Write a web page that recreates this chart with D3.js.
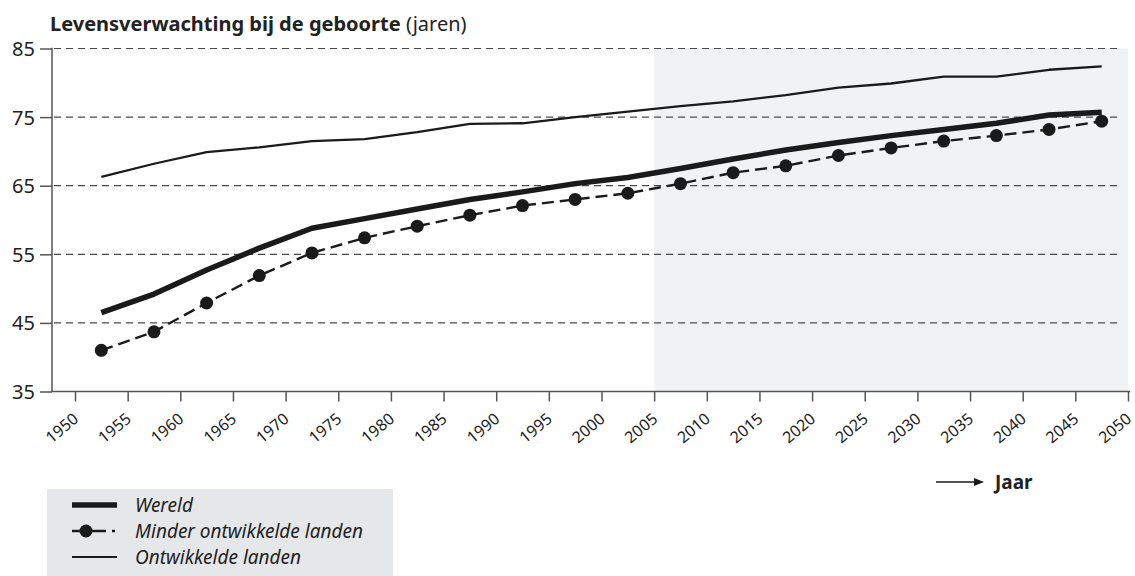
<!DOCTYPE html>
<html>
<head>
<meta charset="utf-8">
<script src="https://cdn.jsdelivr.net/npm/d3@7"></script>
<style>
  html, body { margin: 0; padding: 0; background: #fff; }
  svg { display: block; font-family: "Noto Sans", "Open Sans", sans-serif; }
</style>
</head>
<body>
<svg id="chart" width="1135" height="576"></svg>
<script>
// ---- data ----
const periods = [1952.5, 1957.5, 1962.5, 1967.5, 1972.5, 1977.5, 1982.5, 1987.5, 1992.5, 1997.5,
                 2002.5, 2007.5, 2012.5, 2017.5, 2022.5, 2027.5, 2032.5, 2037.5, 2042.5, 2047.5];
const wereld = [46.5, 49.2, 52.7, 55.9, 58.8, 60.2, 61.6, 63.0, 64.1, 65.3,
                66.2, 67.5, 68.9, 70.2, 71.3, 72.3, 73.2, 74.1, 75.3, 75.7];
const minderOntwikkeld = [41.0, 43.7, 47.9, 51.9, 55.2, 57.4, 59.1, 60.7, 62.1, 63.0,
                          63.9, 65.3, 66.9, 67.9, 69.4, 70.5, 71.5, 72.3, 73.2, 74.4];
const ontwikkeld = [66.3, 68.2, 69.9, 70.6, 71.5, 71.8, 72.8, 74.0, 74.1, 75.0,
                    75.8, 76.6, 77.3, 78.2, 79.3, 79.9, 80.9, 80.9, 81.9, 82.4];
const xTicks = d3.range(1950, 2051, 5);
const yTicks = [35, 45, 55, 65, 75, 85];
const projectionStart = 2005;
const titleBold = "Levensverwachting bij de geboorte";
const titleNormal = " (jaren)";
const legendLabels = ["Wereld", "Minder ontwikkelde landen", "Ontwikkelde landen"];
const xAxisLabel = "Jaar";

// ---- layout ----
const svg = d3.select("#chart");
const axisLeftX = 52, axisRightX = 1130;
const x = d3.scaleLinear().domain([1950, 2050]).range([75, 1128]);
const y = d3.scaleLinear().domain([35, 85]).range([391.5, 48.5]);

// shaded projection area
svg.append("rect")
  .attr("x", x(projectionStart)).attr("y", y(85))
  .attr("width", x(2050) - x(projectionStart)).attr("height", y(35) - y(85))
  .attr("fill", "#f1f2f4");

// gridlines
svg.append("g").selectAll("line")
  .data(yTicks.filter(v => v > 35))
  .join("line")
  .attr("x1", axisLeftX + 2).attr("x2", 1122)
  .attr("y1", d => y(d)).attr("y2", d => y(d))
  .attr("stroke", "#4a4a4a").attr("stroke-width", 1.2)
  .attr("stroke-dasharray", "7,5");

// y axis
const gy = svg.append("g").attr("transform", `translate(${axisLeftX},0)`)
  .call(d3.axisLeft(y).tickValues(yTicks).tickSize(12).tickPadding(5).tickFormat(d3.format("d")));
gy.select(".domain").remove();
gy.selectAll(".tick line").attr("stroke", "#555").attr("stroke-width", 1.5);
gy.selectAll(".tick text").attr("font-size", 20).attr("fill", "#222")
  .attr("font-family", "Noto Sans").attr("dy", "0.35em");
svg.append("line").attr("x1", axisLeftX).attr("x2", axisLeftX)
  .attr("y1", y(85) - 0.75).attr("y2", y(35))
  .attr("stroke", "#555").attr("stroke-width", 1.5);

// x axis
const gx = svg.append("g").attr("transform", `translate(0,${y(35)})`)
  .call(d3.axisBottom(x).tickValues(xTicks).tickSize(10).tickFormat(d3.format("d")));
gx.select(".domain").remove();
gx.selectAll(".tick line").attr("stroke", "#555").attr("stroke-width", 1.5);
gx.selectAll(".tick text")
  .attr("font-size", 16).attr("fill", "#222").attr("font-family", "Noto Sans")
  .attr("text-anchor", "end")
  .attr("y", 0).attr("dy", 0)
  .attr("transform", "translate(4,29) rotate(-40)");
svg.append("line").attr("x1", axisLeftX - 0.75).attr("x2", axisRightX)
  .attr("y1", y(35)).attr("y2", y(35))
  .attr("stroke", "#555").attr("stroke-width", 1.5);

// lines
const line = d3.line().x((d, i) => x(periods[i])).y(d => y(d));
svg.append("path").datum(ontwikkeld).attr("d", line)
  .attr("fill", "none").attr("stroke", "#1a1a1a").attr("stroke-width", 2.3).attr("stroke-linejoin", "round");
svg.append("path").datum(wereld).attr("d", line)
  .attr("fill", "none").attr("stroke", "#1a1a1a").attr("stroke-width", 5.5).attr("stroke-linejoin", "round");
svg.append("path").datum(minderOntwikkeld).attr("d", line)
  .attr("fill", "none").attr("stroke", "#1a1a1a").attr("stroke-width", 2.4)
  .attr("stroke-dasharray", "12,6");
svg.append("g").selectAll("circle").data(minderOntwikkeld).join("circle")
  .attr("cx", (d, i) => x(periods[i])).attr("cy", d => y(d)).attr("r", 6.5)
  .attr("fill", "#1a1a1a");

// title
const title = svg.append("text").attr("x", 50).attr("y", 31)
  .attr("font-size", 20).attr("fill", "#222");
title.append("tspan").attr("font-weight", "bold").text(titleBold);
title.append("tspan").text(titleNormal);

// x axis label with arrow
svg.append("line").attr("x1", 936).attr("x2", 975).attr("y1", 482).attr("y2", 482)
  .attr("stroke", "#1a1a1a").attr("stroke-width", 1.5);
svg.append("path").attr("d", "M974,478 L984,482 L974,486 Z").attr("fill", "#1a1a1a");
svg.append("text").attr("x", 995).attr("y", 489).attr("font-size", 19)
  .attr("font-weight", "bold").attr("fill", "#222").text(xAxisLabel);

// legend
const lg = svg.append("g");
lg.append("rect").attr("x", 47).attr("y", 489).attr("width", 346).attr("height", 90).attr("fill", "#e6e7e8");
const rowsY = [505, 531, 557];
lg.append("line").attr("x1", 72).attr("x2", 117).attr("y1", rowsY[0]).attr("y2", rowsY[0])
  .attr("stroke", "#1a1a1a").attr("stroke-width", 5.5);
lg.append("line").attr("x1", 72).attr("x2", 117).attr("y1", rowsY[1]).attr("y2", rowsY[1])
  .attr("stroke", "#1a1a1a").attr("stroke-width", 2.4).attr("stroke-dasharray", "34,6,3");
lg.append("circle").attr("cx", 86).attr("cy", rowsY[1]).attr("r", 6.5).attr("fill", "#1a1a1a");
lg.append("line").attr("x1", 72).attr("x2", 117).attr("y1", rowsY[2]).attr("y2", rowsY[2])
  .attr("stroke", "#1a1a1a").attr("stroke-width", 2.2);
lg.selectAll("text.lab").data(legendLabels).join("text").attr("class", "lab")
  .attr("x", 135).attr("y", (d, i) => rowsY[i] + 6.5)
  .attr("font-size", 19).attr("font-style", "italic").attr("fill", "#222")
  .text(d => d);
</script>
</body>
</html>
